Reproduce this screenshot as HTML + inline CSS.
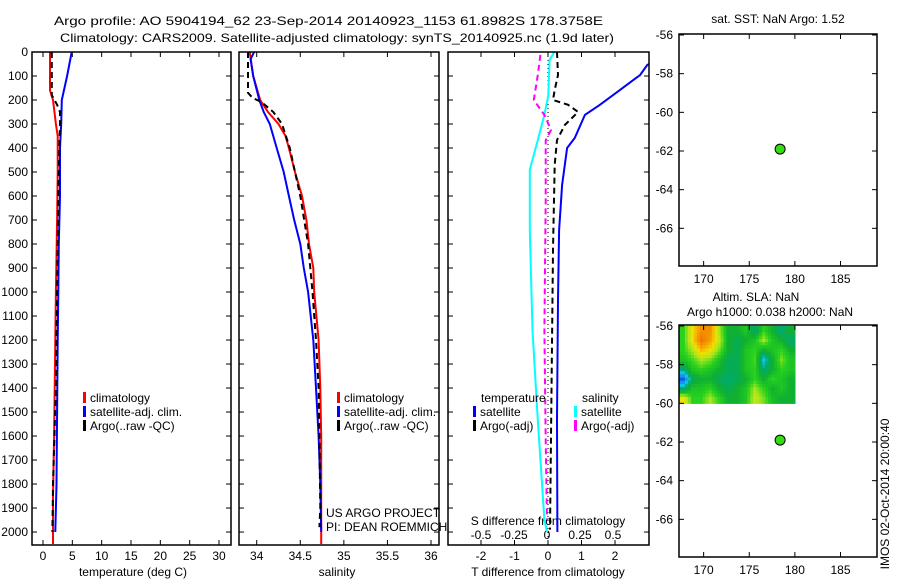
<!DOCTYPE html>
<html><head><meta charset="utf-8"><style>
html,body{margin:0;padding:0;background:#fff;}
svg{display:block;font-family:"Liberation Sans",sans-serif;}
text{font-size:12px;fill:#000;}
</style></head><body>
<svg id="c" width="900" height="580" viewBox="0 0 900 580"></svg>
<script>
// ---------- data ----------
const tClimDepth=[0,160,200,300,350,500,700,1000,1400,1600,1850,2050];
const tClim=[1.2,1.2,1.7,2.2,2.5,2.5,2.4,2.2,2.0,1.9,1.7,1.7];
const tSatDepth=[0,100,200,300,400,600,800,1000,1200,1500,1800,2000];
const tSat=[4.9,4.1,3.2,3.1,2.9,2.9,2.7,2.6,2.5,2.4,2.3,2.1];
const tArgoDepth=[0,180,220,250,300,400,600,1000,1400,1800,2000];
const tArgo=[1.5,1.5,2.4,2.9,2.9,2.8,2.6,2.4,2.2,1.7,1.6];
const sClimDepth=[0,100,150,200,250,300,350,400,500,600,700,800,900,1000,1200,1400,1600,2050];
const sClim=[33.92,33.96,34.0,34.04,34.13,34.25,34.33,34.37,34.44,34.52,34.57,34.6,34.65,34.66,34.71,34.73,34.74,34.74];
const sSatDepth=[0,30,100,200,250,300,400,500,600,700,800,900,1000,1200,1400,1600,1800,2000];
const sSat=[33.97,33.93,33.96,34.03,34.08,34.15,34.23,34.31,34.37,34.43,34.5,34.54,34.59,34.65,34.68,34.71,34.73,34.74];
const sArgoDepth=[0,170,190,210,250,300,400,500,600,800,1000,1200,1400,1600,1900,1980];
const sArgo=[33.9,33.9,33.95,34.06,34.19,34.29,34.38,34.44,34.5,34.59,34.64,34.68,34.71,34.72,34.73,34.72];
const dTSatDepth=[0,54,96,158,220,262,358,400,554,742,1033,1533,2000];
const dTSat=[3.7,2.96,2.75,2.15,1.55,1.1,0.8,0.57,0.42,0.33,0.3,0.27,0.28];
const dTArgoDepth=[0,96,158,200,220,250,304,367,470,825,1450,1990];
const dTArgo=[0.27,0.3,0.2,0.15,0.6,0.9,0.5,0.27,0.2,0.15,0.1,0.06];
const dSSatDepth=[0,33,180,262,367,490,742,1160,1533,1950,2000];
const dSSat=[0.055,0.02,0.01,-0.02,-0.07,-0.13,-0.13,-0.11,-0.07,-0.02,0];
const dSArgoDepth=[12,96,200,262,325,367,617,1160,1617,1950];
const dSArgo=[-0.05,-0.07,-0.1,-0.02,0.03,-0.01,-0.01,-0.02,-0.01,0];
const depthTicks=[0,100,200,300,400,500,600,700,800,900,1000,1100,1200,1300,1400,1500,1600,1700,1800,1900,2000];
const tTicks=[0,5,10,15,20,25,30];
const sTicks=[34,34.5,35,35.5,36];
const sTickLabels=["34","34.5","35","35.5","36"];
const dTTicks=[-2,-1,0,1,2];
const dSTicks=[-0.5,-0.25,0,0.25,0.5];
const dSTickLabels=["-0.5","-0.25","0","0.25","0.5"];
const latTicks=[-56,-58,-60,-62,-64,-66];
const lonTicks=[170,175,180,185];
const argoLon=[178.38];
const argoLat=[-61.9];
const slaGrid=[
[0.5,1.5,2.2,2.2,1,0,0,0.3,-0.5,0.5,0,-0.5,0],
[0.5,1.5,2.5,2,1.2,0,-0.3,0,0.3,1,0.3,0,-0.5],
[0.5,1,1.8,1.5,0.8,0,-0.3,0.3,0.5,0,0.3,0.5,0],
[0.3,0.6,1,0.8,0.3,-0.3,-0.3,0.3,0.6,-1,0,0.8,0.3],
[-0.5,0.3,0.5,0.3,0,-0.3,-0.3,0.3,0.5,-0.5,0,0.5,0.3],
[-1.8,-0.3,0,0,-0.3,-0.5,-0.3,0,0.5,0,0.5,0.3,0],
[-0.5,0.3,0.3,0.5,0,-0.3,0,0.3,1,0.5,0,0.3,0],
[1.5,0.5,0.5,1,0.5,0,0,0.3,1.2,0.8,0.2,0,0]];
const slaLonRange=[167.3,180];
const slaLatRange=[-56,-60];

// ---------- helpers ----------
const svg=document.getElementById('c');
const NS='http://www.w3.org/2000/svg';
function mk(tag,attrs,parent){const e=document.createElementNS(NS,tag);for(const k in attrs)e.setAttribute(k,attrs[k]);(parent||svg).appendChild(e);return e;}
function txt(x,y,s,anchor,parent,size){const t=mk('text',{x:x,y:y,'text-anchor':anchor||'start'},parent);if(size)t.setAttribute('font-size',size);t.textContent=s;return t;}
const Y0=52,Y1=545,D0=0,D1=2054;
function yD(d){return Y0+(d-D0)/(D1-D0)*(Y1-Y0);}
function lin(a,b,pa,pb){return v=>pa+(v-a)/(b-a)*(pb-pa);}
const xT=lin(0,30,43,219);
const xS=lin(34,36,256.7,431);
const xDT=lin(0,2,548,615);
const xDS=lin(0,0.5,547,613);
const P1={x0:32,x1:231},P2={x0:239,x1:439},P3={x0:448,x1:649};

function panel(p,name){
  const g=mk('g',{});
  
  
  const cid='clip-'+name;
  const cp=mk('clipPath',{id:cid},g);mk('rect',{x:p.x0,y:Y0,width:p.x1-p.x0,height:Y1-Y0},cp);
  p.g=g;p.clip=cid;
  depthTicks.forEach(d=>{const y=yD(d);mk('line',{x1:p.x0,x2:p.x0+5,y1:y,y2:y,stroke:'#000'},g);mk('line',{x1:p.x1-5,x2:p.x1,y1:y,y2:y,stroke:'#000'},g);});
  return g;
}
function frame(p){mk('rect',{x:p.x0,y:Y0,width:p.x1-p.x0,height:Y1-Y0,fill:'none',stroke:'#000','stroke-width':1.5},p.g);}
function line(p,xs,ds,xf,color,dash,name,w){
  const pts=xs.map((v,i)=>xf(v).toFixed(1)+','+yD(ds[i]).toFixed(1)).join(' ');
  const pl=mk('polyline',{points:pts,fill:'none',stroke:color,'stroke-width':w||2,'clip-path':'url(#'+p.clip+')'},p.g);
  if(dash)pl.setAttribute('stroke-dasharray',dash);
  
  
}
function legendEntry(g,x,y,color,label,name){
  const e=mk('g',{},g);
  
  
  mk('rect',{x:x,y:y-10,width:3,height:11,fill:color},e);
  txt(x+7,y,label,'start',e);
}

// ---------- titles ----------
const t1=txt(54,25,'Argo profile: AO 5904194_62 23-Sep-2014 20140923_1153 61.8982S 178.3758E','start',null,15);
t1.setAttribute('textLength','549');t1.setAttribute('lengthAdjust','spacingAndGlyphs');

const t2=txt(60,42,'Climatology: CARS2009. Satellite-adjusted climatology: synTS_20140925.nc (1.9d later)','start',null,15);
t2.setAttribute('textLength','554');t2.setAttribute('lengthAdjust','spacingAndGlyphs');


// ---------- panel 1 temperature ----------
const g1=panel(P1,'temperature-panel');
depthTicks.forEach(d=>{txt(28,yD(d)+4,String(d),'end',g1);});
tTicks.forEach(v=>{const x=xT(v);mk('line',{x1:x,x2:x,y1:Y0,y2:Y0+5,stroke:'#000'},g1);mk('line',{x1:x,x2:x,y1:Y1-5,y2:Y1,stroke:'#000'},g1);txt(x,560,String(v),'middle',g1);});
txt(133,576,'temperature (deg C)','middle',g1);
line(P1,tClim,tClimDepth,xT,'#f00',null,'temp-climatology-line');
line(P1,tSat,tSatDepth,xT,'#00f',null,'temp-satellite-line');
line(P1,tArgo,tArgoDepth,xT,'#000','6,4','temp-argo-line');
frame(P1);
legendEntry(g1,83,402,'#f00','climatology','legend-climatology');
legendEntry(g1,83,416,'#00f','satellite-adj. clim.','legend-satellite');
legendEntry(g1,83,430,'#000','Argo(..raw -QC)','legend-argo');

// ---------- panel 2 salinity ----------
const g2=panel(P2,'salinity-panel');
sTicks.forEach((v,i)=>{const x=xS(v);mk('line',{x1:x,x2:x,y1:Y0,y2:Y0+5,stroke:'#000'},g2);mk('line',{x1:x,x2:x,y1:Y1-5,y2:Y1,stroke:'#000'},g2);txt(x,560,sTickLabels[i],'middle',g2);});
txt(337,576,'salinity','middle',g2);
line(P2,sClim,sClimDepth,xS,'#f00',null,'sal-climatology-line');
line(P2,sSat,sSatDepth,xS,'#00f',null,'sal-satellite-line');
line(P2,sArgo,sArgoDepth,xS,'#000','6,4','sal-argo-line');
frame(P2);
legendEntry(g2,337,402,'#f00','climatology','legend-climatology-2');
legendEntry(g2,337,416,'#00f','satellite-adj. clim.','legend-satellite-2');
legendEntry(g2,337,430,'#000','Argo(..raw -QC)','legend-argo-2');
const pi=mk('g',{},g2);
txt(326,517,'US ARGO PROJECT','start',pi);txt(326,531,'PI: DEAN ROEMMICH','start',pi);

// ---------- panel 3 differences ----------
const g3=panel(P3,'difference-panel');
dTTicks.forEach(v=>{const x=xDT(v);mk('line',{x1:x,x2:x,y1:Y0,y2:Y0+5,stroke:'#000'},g3);mk('line',{x1:x,x2:x,y1:Y1-5,y2:Y1,stroke:'#000'},g3);txt(x,560,String(v),'middle',g3);});
dSTicks.forEach((v,i)=>{txt(xDS(v),539,dSTickLabels[i],'middle',g3);});
txt(548,525,'S difference from climatology','middle',g3);
txt(548,576,'T difference from climatology','middle',g3);
mk('line',{x1:xDT(0),x2:xDT(0),y1:Y0,y2:Y1,stroke:'#000','stroke-dasharray':'1,3'},g3);
line(P3,dSSat,dSSatDepth,xDS,'#0ff',null,'sal-diff-satellite-line');
line(P3,dSArgo,dSArgoDepth,xDS,'#f0f','6,4','sal-diff-argo-line');
line(P3,dTSat,dTSatDepth,xDT,'#00f',null,'temp-diff-satellite-line');
line(P3,dTArgo,dTArgoDepth,xDT,'#000','6,4','temp-diff-argo-line');
frame(P3);
txt(481,402,'temperature','start',g3);
legendEntry(g3,473,416,'#00f','satellite','legend-temp-satellite');
legendEntry(g3,473,430,'#000','Argo(-adj)','legend-temp-argo');
txt(582,402,'salinity','start',g3);
legendEntry(g3,574,416,'#0ff','satellite','legend-sal-satellite');
legendEntry(g3,574,430,'#f0f','Argo(-adj)','legend-sal-argo');

// ---------- maps ----------
function colorOf(v){
  const stops=[[-2,[16,64,240]],[-1,[16,200,230]],[-0.5,[0,170,110]],[0,[16,176,48]],[0.5,[40,210,30]],[1,[170,230,30]],[1.5,[240,225,0]],[2,[245,160,0]],[2.5,[240,120,0]]];
  if(v<=stops[0][0])return 'rgb('+stops[0][1]+')';
  for(let i=1;i<stops.length;i++){if(v<=stops[i][0]){const a=stops[i-1],b=stops[i];const f=(v-a[0])/(b[0]-a[0]);return 'rgb('+a[1].map((c,k)=>Math.round(c+(b[1][k]-c)*f)).join(',')+')';}}
  return 'rgb('+stops[stops.length-1][1]+')';
}
function sampleGrid(r,c){
  const nr=slaGrid.length,nc=slaGrid[0].length;
  let rr=Math.min(Math.max(r-0.5,0),nr-1),cc=Math.min(Math.max(c-0.5,0),nc-1);
  const r0=Math.floor(rr),c0=Math.floor(cc),r1=Math.min(r0+1,nr-1),c1=Math.min(c0+1,nc-1);
  const fr=rr-r0,fc=cc-c0;
  return slaGrid[r0][c0]*(1-fr)*(1-fc)+slaGrid[r0][c1]*(1-fr)*fc+slaGrid[r1][c0]*fr*(1-fc)+slaGrid[r1][c1]*fr*fc;
}
function mapPanel(y0,name,heat){
  const M={x0:679,x1:877,y0:y0,y1:y0+232};
  const xL=lin(167.3,189,M.x0,M.x1);
  const yL=lin(-56,-68,y0+1,y0+233);
  const g=mk('g',{});
  
  
  if(heat){
    const nr=slaGrid.length,nc=slaGrid[0].length,sub=3;
    const dl=(slaLonRange[1]-slaLonRange[0])/(nc*sub),dlat=(slaLatRange[1]-slaLatRange[0])/(nr*sub);
    for(let r=0;r<nr*sub;r++)for(let c=0;c<nc*sub;c++){
      const v=sampleGrid((r+0.5)/sub,(c+0.5)/sub);
      const xa=xL(slaLonRange[0]+c*dl),xb=xL(slaLonRange[0]+(c+1)*dl);
      const ya=yL(slaLatRange[0]+r*dlat),yb=yL(slaLatRange[0]+(r+1)*dlat);
      const cell=mk('rect',{x:xa.toFixed(1),y:ya.toFixed(1),width:(xb-xa+0.6).toFixed(1),height:(yb-ya+0.6).toFixed(1),fill:colorOf(v)},g);
      
      
    }
  }
  latTicks.forEach(v=>{const y=yL(v);mk('line',{x1:M.x0,x2:M.x0+5,y1:y,y2:y,stroke:'#000'},g);mk('line',{x1:M.x1-5,x2:M.x1,y1:y,y2:y,stroke:'#000'},g);txt(673,y+4,String(v),'end',g);});
  lonTicks.forEach(v=>{const x=xL(v);mk('line',{x1:x,x2:x,y1:M.y0,y2:M.y0+5,stroke:'#000'},g);mk('line',{x1:x,x2:x,y1:M.y1-5,y2:M.y1,stroke:'#000'},g);txt(x,M.y1+17,String(v),'middle',g);});
  mk('rect',{x:M.x0,y:M.y0,width:M.x1-M.x0,height:M.y1-M.y0,fill:'none',stroke:'#000','stroke-width':1.5},g);
  argoLon.forEach((lo,i)=>{const d=mk('circle',{cx:xL(lo),cy:yL(argoLat[i]),r:5,fill:'#33dd11',stroke:'#000','stroke-width':1},g);
    });
  return g;
}
const m1=mapPanel(34,'sst-map',false);
txt(778,23,'sat. SST: NaN Argo: 1.52','middle',m1);
const m2=mapPanel(325,'sla-map',true);
txt(756,301,'Altim. SLA: NaN','middle',m2);
txt(770,316,'Argo h1000: 0.038 h2000: NaN','middle',m2);
const st=txt(0,0,'IMOS 02-Oct-2014 20:00:40','middle',null,12);
st.setAttribute('transform','translate(889,494) rotate(-90)');


</script>
</body></html>
